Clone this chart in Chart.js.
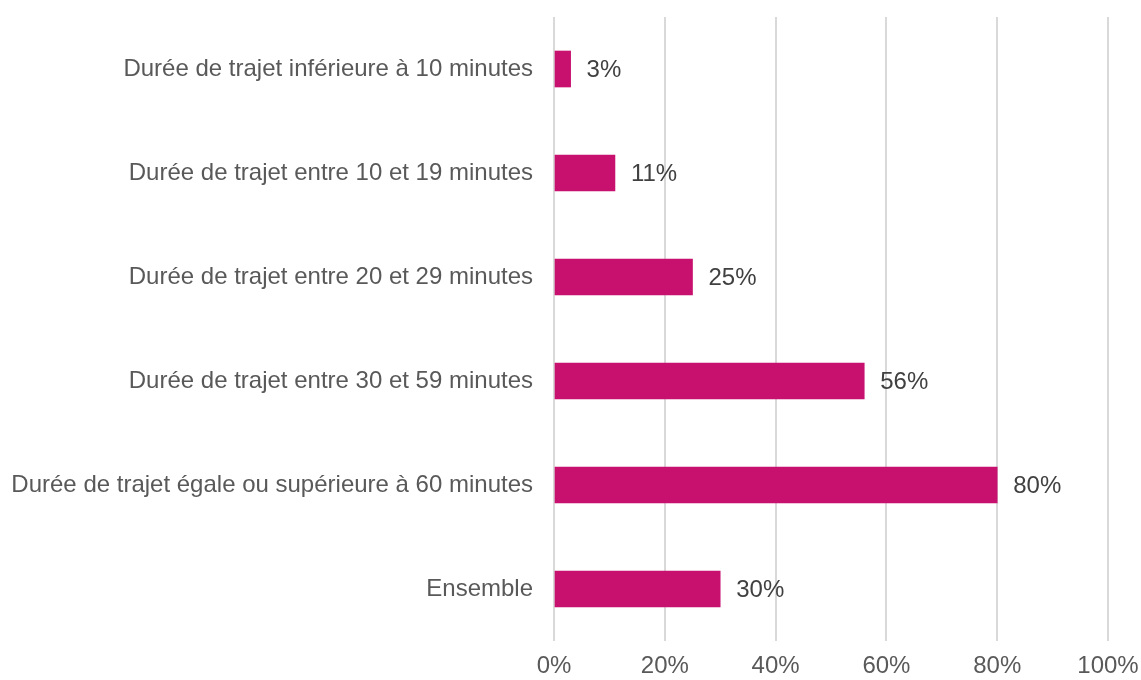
<!DOCTYPE html>
<html>
<head>
<meta charset="utf-8">
<script src="https://cdn.jsdelivr.net/npm/chart.js@4"></script>
<style>
  html, body { margin: 0; padding: 0; background: #fff; }
  #wrap { width: 1141px; height: 680px; }
</style>
</head>
<body>
<div id="wrap"><canvas id="chart" width="1141" height="680"></canvas></div>
<script>
const categories = [
  'Durée de trajet inférieure à 10 minutes',
  'Durée de trajet entre 10 et 19 minutes',
  'Durée de trajet entre 20 et 29 minutes',
  'Durée de trajet entre 30 et 59 minutes',
  'Durée de trajet égale ou supérieure à 60 minutes',
  'Ensemble'
];
const shares = [3, 11, 25, 56, 80, 30];
const xTicks = [0, 20, 40, 60, 80, 100];

const FONT = "'Liberation Sans', Arial, sans-serif";

// value labels at the end of each bar
const valueLabels = {
  id: 'valueLabels',
  afterDatasetsDraw(chart) {
    const ctx = chart.ctx;
    const meta = chart.getDatasetMeta(0);
    ctx.save();
    ctx.font = '24px ' + FONT;
    ctx.fillStyle = '#404040';
    ctx.textAlign = 'left';
    ctx.textBaseline = 'middle';
    meta.data.forEach((bar, i) => {
      ctx.fillText(shares[i] + '%', bar.x + 16, bar.y + 1);
    });
    ctx.restore();
  }
};

new Chart(document.getElementById('chart').getContext('2d'), {
  type: 'bar',
  data: {
    labels: categories,
    datasets: [{
      data: shares,
      backgroundColor: '#C8106E',
      barThickness: 36
    }]
  },
  options: {
    indexAxis: 'y',
    responsive: false,
    animation: false,
    layout: { padding: { top: 17, right: 33, left: 0, bottom: 0 } },
    scales: {
      x: {
        min: 0,
        max: 100,
        afterBuildTicks(scale) {
          scale.ticks = xTicks.map(v => ({ value: v }));
        },
        afterFit(scale) {
          scale.height = 39;
          scale.paddingLeft = 0;
          scale.paddingRight = 0;
        },
        grid: { color: '#d9d9d9', lineWidth: 2, drawTicks: false },
        border: { display: false },
        ticks: {
          padding: 11,
          color: '#595959',
          font: { family: FONT, size: 24 },
          callback: v => v + '%'
        }
      },
      y: {
        afterFit(scale) {
          scale.width = 554;
          scale.paddingTop = 0;
          scale.paddingBottom = 0;
        },
        grid: { display: false, drawTicks: false },
        border: { display: false },
        ticks: {
          padding: 21,
          color: '#595959',
          font: { family: FONT, size: 24 }
        }
      }
    },
    plugins: {
      legend: { display: false },
      tooltip: { enabled: false }
    }
  },
  plugins: [valueLabels]
});
</script>
</body>
</html>
